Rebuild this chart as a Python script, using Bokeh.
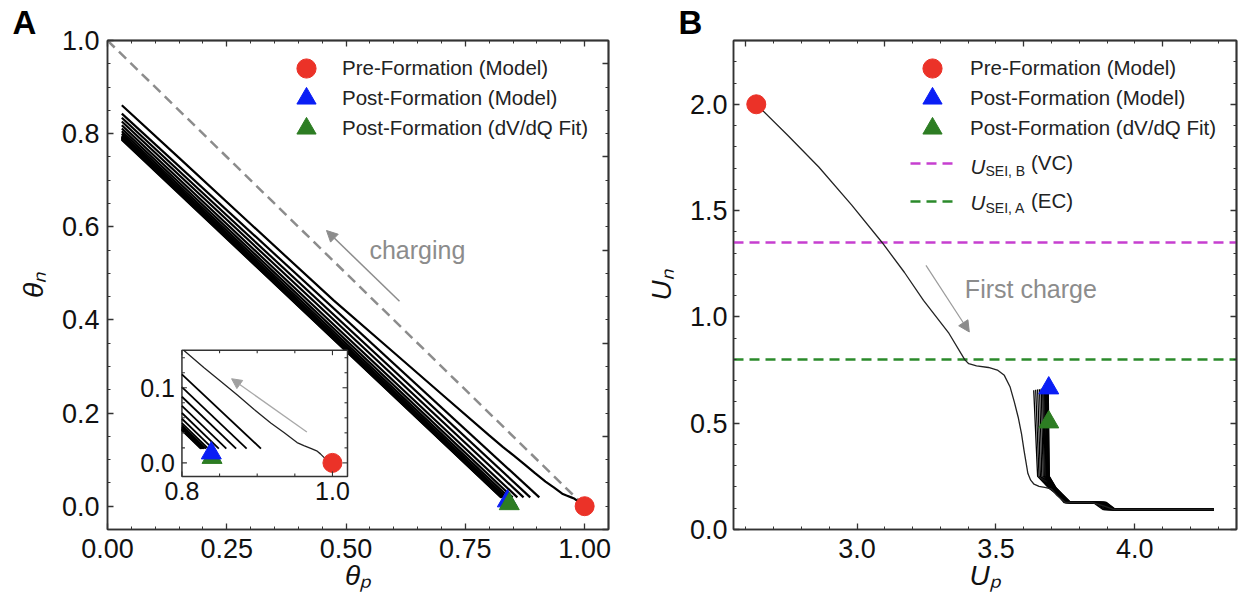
import numpy as np
from bokeh.plotting import figure
from bokeh.layouts import row
from bokeh.models import (Range1d, LinearAxis, SingleIntervalTicker, FixedTicker, PrintfTickFormatter,
                          Legend, LegendItem, Label, Arrow, NormalHead)
from bokeh.embed import file_html
from bokeh.resources import INLINE
from bokeh.core.properties import value

FONT = "Liberation Sans"
RED = "#eb3228"
BLUE = "#0a1ef5"
GREEN = "#2d7d23"
MAGENTA = "#c63fd0"
DGREEN = "#2b8a2b"
GRAY = "#8c8c8c"
AX = "#333333"
TXT = "#111111"

# ---------------- Panel A data ----------------
a_xlim = (0.0, 1.05)
a_ylim = (-0.05, 1.0)
a_diag_tp = [0.0, 1.0]
a_diag_tn = [1.0, 0.0]
# first charge (theta_p, theta_n)
a_fc_tp = [1.000, 0.990, 0.984, 0.979, 0.972, 0.962, 0.953, 0.936, 0.918, 0.896, 0.874,
           0.851, 0.829, 0.800, 0.700, 0.600, 0.474, 0.300, 0.150, 0.030]
a_fc_tn = [0.000, 0.006, 0.012, 0.016, 0.019, 0.023, 0.027, 0.040, 0.053, 0.071, 0.090,
           0.109, 0.127, 0.152, 0.241, 0.330, 0.442, 0.606, 0.748, 0.861]
# subsequent cycles: straight segments from (start_tp, start_tn) to (end_tp, end_tn)
a_cyc_start_tp = 0.030
a_cyc_start_tn = [0.843, 0.834, 0.826, 0.818, 0.811, 0.805, 0.800, 0.796, 0.794, 0.793,
                  0.792, 0.791, 0.790, 0.789, 0.788, 0.787]
a_cyc_end_tp = [0.905, 0.886, 0.872, 0.859, 0.849, 0.841, 0.835, 0.832, 0.830, 0.829,
                0.828, 0.827, 0.827, 0.826, 0.826, 0.825]
a_cyc_end_tn = 0.019
a_pre_tp, a_pre_tn = [1.0], [0.0]
a_postm_tp, a_postm_tn = [0.838], [0.011]
a_postf_tp, a_postf_tn = [0.842], [0.005]

# inset
ins_xlim = (0.8, 1.02)
ins_ylim = (-0.018, 0.15)
ins_box_x = (0.156, 0.503)   # placement of the inset inside panel A (main data units)
ins_box_y = (0.064, 0.335)
ins_w_px, ins_h_px = 166, 126
ins_xticks_major = [0.8, 1.0]
ins_xticks_minor = [0.85, 0.9, 0.95]
ins_yticks_major = [0.0, 0.1]
ins_yticks_minor = [0.02, 0.04, 0.06, 0.08, 0.12, 0.14]
ins_xlabels = ["0.8", "1.0"]
ins_ylabels = ["0.0", "0.1"]
ins_postm_tp, ins_postm_tn = [0.839], [0.013]
ins_postf_tp, ins_postf_tn = [0.840], [0.007]

# ---------------- Panel B data ----------------
b_xlim = (2.555, 4.366)
b_ylim = (0.0, 2.3)
b_fc_up = [2.637, 2.750, 2.862, 2.980, 3.090, 3.170, 3.239, 3.331, 3.388, 3.402, 3.430,
           3.473, 3.505, 3.530, 3.551, 3.566, 3.580, 3.592, 3.601, 3.615, 3.625, 3.637,
           3.655, 3.680, 3.700, 3.720, 3.750, 3.845, 3.885, 3.925, 4.284]
b_fc_un = [2.000, 1.854, 1.705, 1.527, 1.350, 1.210, 1.078, 0.922, 0.798, 0.780, 0.770,
           0.762, 0.750, 0.725, 0.670, 0.600, 0.528, 0.450, 0.372, 0.263, 0.232, 0.213,
           0.203, 0.197, 0.190, 0.160, 0.127, 0.127, 0.112, 0.094, 0.094]
b_top_up = [3.636, 3.643, 3.650, 3.657, 3.663, 3.668, 3.672, 3.675, 3.678, 3.680,
            3.682, 3.684, 3.685, 3.686, 3.687, 3.688]
b_top_un = [0.655, 0.657, 0.659, 0.660, 0.662, 0.663, 0.664, 0.665, 0.666, 0.667,
            0.667, 0.668, 0.668, 0.669, 0.669, 0.670]
b_knee_up = [3.650, 3.655, 3.660, 3.665, 3.670, 3.674, 3.677, 3.680, 3.682, 3.684,
             3.686, 3.688, 3.689, 3.690, 3.691, 3.692]
b_shoulder_up = [3.690, 3.693, 3.696, 3.699, 3.701, 3.703, 3.705, 3.707, 3.709, 3.711,
                 3.712, 3.713, 3.714, 3.715, 3.716, 3.717]
b_slope_up = [3.720, 3.722, 3.724, 3.726, 3.728, 3.730, 3.731, 3.732, 3.733, 3.734,
              3.735, 3.736, 3.737, 3.738, 3.739, 3.740]
b_plateau_up = [3.745, 3.748, 3.750, 3.752, 3.754, 3.756, 3.758, 3.760, 3.762, 3.763,
                3.764, 3.765, 3.766, 3.767, 3.768, 3.769]
b_step_up = [3.850, 3.856, 3.861, 3.866, 3.870, 3.874, 3.877, 3.880, 3.883, 3.886,
             3.888, 3.890, 3.892, 3.894, 3.896, 3.898]
b_step_end_up = [3.885, 3.890, 3.895, 3.900, 3.904, 3.908, 3.911, 3.914, 3.917, 3.919,
                 3.921, 3.923, 3.925, 3.927, 3.929, 3.931]
b_knee_un, b_shoulder_un, b_slope_un, b_plateau_un, b_tail_un = 0.25, 0.195, 0.165, 0.127, 0.094
b_tail_end_up = 4.284
b_pre_up, b_pre_un = [2.637], [2.0]
b_postm_up, b_postm_un = [3.690], [0.665]
b_postf_up, b_postf_un = [3.690], [0.505]
b_usei_b = 1.35
b_usei_a = 0.80

legend_labels = ["Pre-Formation (Model)", "Post-Formation (Model)", "Post-Formation (dV/dQ Fit)"]

FRAME_BOTTOM = 529   # screen y of frame bottoms (layout constant)


def tick_positions(lo, hi, step, major_every):
    n = int(round((hi - lo) / step))
    allt = [round(lo + i * step, 6) for i in range(n + 1)]
    major = [t for i, t in enumerate(allt) if i % major_every == 0]
    minor = [t for i, t in enumerate(allt) if i % major_every != 0]
    return major, minor


def style_axes(p, xint, xminor, yint, yminor, xfmt, yfmt, xticks, yticks):
    xaxis = p.below[0]
    yaxis = p.left[0]
    p.xgrid.visible = False
    p.ygrid.visible = False
    p.outline_line_color = AX
    p.outline_line_width = 1.5
    p.background_fill_color = "white"
    p.border_fill_color = "white"
    xaxis.ticker = SingleIntervalTicker(interval=xint, num_minor_ticks=xminor)
    yaxis.ticker = SingleIntervalTicker(interval=yint, num_minor_ticks=yminor)
    xaxis.formatter = PrintfTickFormatter(format=xfmt)
    yaxis.formatter = PrintfTickFormatter(format=yfmt)
    for side, (maj, mnr) in (("above", xticks), ("right", yticks)):
        for ticks, length, width in ((maj, 6, 1.3), (mnr, 3, 1.0)):
            ax = LinearAxis(ticker=FixedTicker(ticks=[], minor_ticks=ticks),
                            major_label_standoff=0, minor_tick_in=length, minor_tick_out=0,
                            minor_tick_line_width=width, minor_tick_line_color=AX,
                            major_tick_in=0, major_tick_out=0,
                            axis_line_color=AX, axis_line_width=1.5)
            p.add_layout(ax, side)
    for ax in [xaxis, yaxis]:
        ax.axis_line_color = AX
        ax.axis_line_width = 1.5
        ax.major_tick_line_color = AX
        ax.major_tick_line_width = 1.3
        ax.major_tick_in = 6
        ax.major_tick_out = 0
        ax.minor_tick_line_color = AX
        ax.minor_tick_line_width = 1.0
        ax.minor_tick_in = 3
        ax.minor_tick_out = 0
        ax.major_label_text_font = FONT
        ax.major_label_text_font_size = "27px"
        ax.major_label_text_color = TXT
        ax.axis_label_text_font = FONT
        ax.axis_label_text_font_size = "28px"
        ax.axis_label_text_font_style = "italic"
        ax.axis_label_text_color = TXT
    return xaxis, yaxis


def panel_letter(p, letter, offset):
    p.title.text = letter
    p.title.align = "left"
    p.title.offset = offset
    p.title.text_font = FONT
    p.title.text_font_size = "33px"
    p.title.text_font_style = "bold"
    p.title.text_color = "black"
    p.title.standoff = -1


def marker_legends(p, renderers, x, centers, standoff):
    for lab, r, c in zip(legend_labels, renderers, centers):
        p.add_layout(Legend(items=[LegendItem(label=lab, renderers=[r])],
                            location=(x, FRAME_BOTTOM - (c + 24)), glyph_width=48, glyph_height=48,
                            padding=0, margin=0, label_standoff=standoff, label_height=20,
                            label_text_font=FONT, label_text_font_size="20.5px",
                            label_text_color="#222222",
                            border_line_alpha=0, background_fill_alpha=0))


# ======================= Panel A =======================
pA = figure(width=620, height=600, x_range=Range1d(*a_xlim), y_range=Range1d(*a_ylim),
            output_backend="svg", toolbar_location=None,
            min_border_left=107, min_border_right=12, min_border_top=40, min_border_bottom=71)
axA_x, axA_y = style_axes(pA, 0.25, 5, 0.2, 4, "%.2f", "%.1f",
                          tick_positions(0.0, 1.05, 0.05, 5), tick_positions(-0.05, 1.0, 0.05, 4))
axA_x.axis_label = "θₚ"
axA_y.axis_label = "θₙ"
axA_x.major_label_standoff = 9
axA_y.major_label_standoff = 8
axA_x.axis_label_standoff = -1
axA_y.axis_label_standoff = 10
panel_letter(pA, "A", -95)

pA.line(a_diag_tp, a_diag_tn, line_color=GRAY, line_width=2.5, line_dash="10 6")
a_xs = [[a_cyc_start_tp, e] for e in a_cyc_end_tp]
a_ys = [[s, a_cyc_end_tn] for s in a_cyc_start_tn]
pA.multi_line(a_xs, a_ys, line_color="black", line_width=2.2)
pA.line(a_fc_tp, a_fc_tn, line_color="black", line_width=2.2)
rA_pre = pA.scatter(a_pre_tp, a_pre_tn, marker="circle", size=19, fill_color=RED, line_color=RED)
rA_pm = pA.scatter(a_postm_tp, a_postm_tn, marker="triangle", size=20, fill_color=BLUE, line_color=BLUE)
rA_pf = pA.scatter(a_postf_tp, a_postf_tn, marker="triangle", size=20, fill_color=GREEN, line_color=GREEN)

pA.add_layout(Arrow(end=NormalHead(size=11, fill_color=GRAY, line_color=GRAY),
                    x_start=0.612, y_start=0.440, x_end=0.459, y_end=0.592,
                    line_color=GRAY, line_width=1.5))
pA.add_layout(Label(x=0.549, y=0.550, text="charging", text_font=FONT, text_font_size="25px",
                    text_color=GRAY, text_baseline="middle"))

# inset
ins = pA.subplot(x_source=Range1d(*ins_xlim), y_source=Range1d(*ins_ylim),
                 x_target=Range1d(*ins_box_x), y_target=Range1d(*ins_box_y))
ins.quad(left=[ins_xlim[0]], right=[ins_xlim[1]], bottom=[ins_ylim[0]], top=[ins_ylim[1]],
         fill_color="white", line_color=AX, line_width=1.5)
ins_xs, ins_ys = [], []
for s, e in zip(a_cyc_start_tn, a_cyc_end_tp):
    y_at = float(np.interp(ins_xlim[0], [a_cyc_start_tp, e], [s, a_cyc_end_tn]))
    ins_xs.append([ins_xlim[0], e])
    ins_ys.append([y_at, a_cyc_end_tn])
ins.multi_line(ins_xs, ins_ys, line_color="black", line_width=1.8)
fc_tp = np.array(a_fc_tp)
fc_tn = np.array(a_fc_tn)
x_cut = float(np.interp(ins_ylim[1], fc_tn, fc_tp))
keep = fc_tn < ins_ylim[1]
ins.line(list(fc_tp[keep]) + [x_cut], list(fc_tn[keep]) + [ins_ylim[1]], line_color="#222222", line_width=1.3)
ins.scatter(a_pre_tp, a_pre_tn, marker="circle", size=19, fill_color=RED, line_color=RED)
ins.scatter(ins_postf_tp, ins_postf_tn, marker="triangle", size=20, fill_color=GREEN, line_color=GREEN)
ins.scatter(ins_postm_tp, ins_postm_tn, marker="triangle", size=20, fill_color=BLUE, line_color=BLUE)
xr = ins_xlim[1] - ins_xlim[0]
yr = ins_ylim[1] - ins_ylim[0]


def tick_segments(major_px, minor_px):
    x0, x1, y0, y1 = [], [], [], []
    for ticks, px in ((ins_xticks_major, major_px), (ins_xticks_minor, minor_px)):
        ly = px / ins_h_px * yr
        for t in ticks:
            x0 += [t, t]; x1 += [t, t]
            y0 += [ins_ylim[0], ins_ylim[1]]; y1 += [ins_ylim[0] + ly, ins_ylim[1] - ly]
    for ticks, px in ((ins_yticks_major, major_px), (ins_yticks_minor, minor_px)):
        lx = px / ins_w_px * xr
        for t in ticks:
            y0 += [t, t]; y1 += [t, t]
            x0 += [ins_xlim[0], ins_xlim[1]]; x1 += [ins_xlim[0] + lx, ins_xlim[1] - lx]
    return x0, y0, x1, y1


sx0, sy0, sx1, sy1 = tick_segments(5, 3)
ins.segment(sx0, sy0, sx1, sy1, line_color=AX, line_width=1.1)
ins.text(x=ins_xticks_major, y=[ins_ylim[0]] * len(ins_xticks_major), text=ins_xlabels,
         text_align="center", text_baseline="top", y_offset=6,
         text_font=value(FONT), text_font_size="25px", text_color=TXT)
ins.text(x=[ins_xlim[0]] * len(ins_yticks_major), y=ins_yticks_major, text=ins_ylabels,
         text_align="right", text_baseline="middle", x_offset=-7,
         text_font=value(FONT), text_font_size="25px", text_color=TXT)


def to_main(x, y):
    mx = ins_box_x[0] + (x - ins_xlim[0]) / xr * (ins_box_x[1] - ins_box_x[0])
    my = ins_box_y[0] + (y - ins_ylim[0]) / yr * (ins_box_y[1] - ins_box_y[0])
    return mx, my


ax0, ay0 = to_main(0.966, 0.041)
ax1, ay1 = to_main(0.866, 0.112)
pA.add_layout(Arrow(end=NormalHead(size=10, fill_color="#a0a0a0", line_color="#a0a0a0"),
                    x_start=ax0, y_start=ay0, x_end=ax1, y_end=ay1,
                    line_color="#a8a8a8", line_width=1.3))

marker_legends(pA, [rA_pre, rA_pm, rA_pf], 175, [68, 98, 128], 12)

# ======================= Panel B =======================
pB = figure(width=618, height=600, x_range=Range1d(*b_xlim), y_range=Range1d(*b_ylim),
            output_backend="svg", toolbar_location=None,
            min_border_left=113, min_border_right=2, min_border_top=40, min_border_bottom=71)
axB_x, axB_y = style_axes(pB, 0.5, 5, 0.5, 5, "%.1f", "%.1f",
                          tick_positions(2.6, 4.3, 0.1, 5), tick_positions(0.0, 2.3, 0.1, 5))
axB_x.axis_label = "Uₚ"
axB_y.axis_label = "Uₙ"
axB_x.major_label_standoff = 9
axB_y.major_label_standoff = 6
axB_x.axis_label_standoff = -1
axB_y.axis_label_standoff = 10
panel_letter(pB, "B", -55)

rB_vc = pB.line(list(b_xlim), [b_usei_b, b_usei_b], line_color=MAGENTA, line_width=2.5, line_dash="10 6")
rB_ec = pB.line(list(b_xlim), [b_usei_a, b_usei_a], line_color=DGREEN, line_width=2.5, line_dash="10 6")
b_xs, b_ys = [], []
for k in range(len(b_top_up)):
    b_xs.append([b_top_up[k], b_knee_up[k], b_shoulder_up[k], b_slope_up[k], b_plateau_up[k],
                 b_step_up[k], b_step_end_up[k], b_tail_end_up])
    b_ys.append([b_top_un[k], b_knee_un, b_shoulder_un, b_slope_un, b_plateau_un,
                 b_plateau_un, b_tail_un, b_tail_un])
pB.multi_line(b_xs, b_ys, line_color="black", line_width=1.3)
pB.line(b_fc_up, b_fc_un, line_color="#222222", line_width=1.3)
rB_pre = pB.scatter(b_pre_up, b_pre_un, marker="circle", size=19, fill_color=RED, line_color=RED)
rB_pm = pB.scatter(b_postm_up, b_postm_un, marker="triangle", size=20, fill_color=BLUE, line_color=BLUE)
rB_pf = pB.scatter(b_postf_up, b_postf_un, marker="triangle", size=20, fill_color=GREEN, line_color=GREEN)

pB.add_layout(Arrow(end=NormalHead(size=11, fill_color=GRAY, line_color=GRAY),
                    x_start=3.248, y_start=1.242, x_end=3.404, y_end=0.929,
                    line_color="#9a9a9a", line_width=1.2))
pB.add_layout(Label(x=3.388, y=1.132, text="First charge", text_font=FONT, text_font_size="25px",
                    text_color=GRAY, text_baseline="middle"))

marker_legends(pB, [rB_pre, rB_pm, rB_pf], 175, [68, 98, 128], 14)
pB.add_layout(Legend(items=[LegendItem(label="(VC)", renderers=[rB_vc]),
                            LegendItem(label="(EC)", renderers=[rB_ec])],
                     location=(177, FRAME_BOTTOM - 216), glyph_width=43, glyph_height=30, spacing=8,
                     padding=0, margin=0, label_standoff=78, label_height=20,
                     label_text_font=FONT, label_text_font_size="20.5px", label_text_color="#222222",
                     border_line_alpha=0, background_fill_alpha=0))
for ytxt, ysub, sub in ((FRAME_BOTTOM - 166, FRAME_BOTTOM - 170, "SEI, B"),
                        (FRAME_BOTTOM - 202, FRAME_BOTTOM - 207, "SEI, A")):
    pB.add_layout(Label(x=237, y=ytxt, x_units="screen", y_units="screen", text="U",
                        text_font=FONT, text_font_size="20.5px", text_font_style="italic",
                        text_color="#222222", text_baseline="middle"))
    pB.add_layout(Label(x=252, y=ysub, x_units="screen", y_units="screen", text=sub,
                        text_font=FONT, text_font_size="14px",
                        text_color="#222222", text_baseline="middle"))

layout = row(pA, pB)
open("out.html", "w").write(file_html(layout, INLINE))
